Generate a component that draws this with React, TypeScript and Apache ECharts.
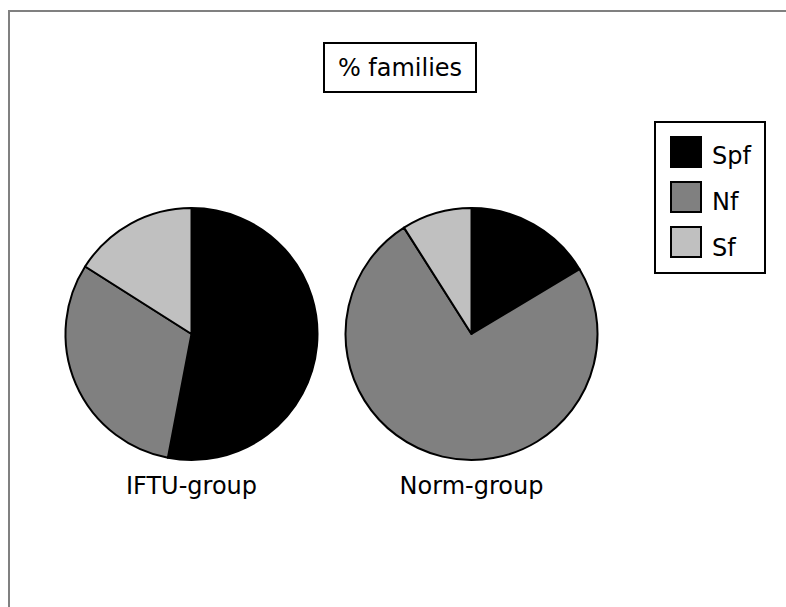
import React, { useEffect, useRef } from "react";
import * as echarts from "echarts";

const categories = ["Spf", "Nf", "Sf"];
const groups = ["IFTU-group", "Norm-group"];
const iftuValues = [53, 31, 16];
const normValues = [16.4, 74.6, 9];
const colors = ["#000000", "#808080", "#c0c0c0"];
const titleText = "% families";

const FONT = "DejaVu Sans, Verdana, sans-serif";

export default function App() {
  const ref = useRef<HTMLDivElement>(null);
  useEffect(() => {
    if (!ref.current) return;
    const chart = echarts.init(ref.current, undefined, { renderer: "svg" });
    const seriesData = [iftuValues, normValues];
    const centers = [[191.5, 334], [471.5, 334]];
    const legendY = [137, 182, 227];
    const legendTextY = [156, 202, 248];
    const option: any = {
      animation: false,
      backgroundColor: "#ffffff",
      series: seriesData.map((vals, i) => ({
        type: "pie",
        name: groups[i],
        center: centers[i],
        radius: 126,
        startAngle: 90,
        clockwise: true,
        label: { show: false },
        labelLine: { show: false },
        emphasis: { disabled: true },
        itemStyle: { borderColor: "#000000", borderWidth: 2 },
        data: vals.map((v, j) => ({
          name: categories[j],
          value: v,
          itemStyle: { color: colors[j] },
        })),
      })),
      graphic: [
        {
          type: "rect",
          shape: { x: 9, y: 11, width: 900, height: 800 },
          style: { fill: "none", stroke: "#808080", lineWidth: 2 },
          silent: true,
        },
        {
          type: "rect",
          shape: { x: 324, y: 43, width: 152, height: 49 },
          style: { fill: "#ffffff", stroke: "#000000", lineWidth: 2 },
        },
        {
          type: "text",
          x: 400,
          y: 68,
          style: {
            text: titleText,
            font: `24px ${FONT}`,
            fill: "#000000",
            align: "center",
            verticalAlign: "middle",
          },
        },
        {
          type: "rect",
          shape: { x: 655, y: 122, width: 110, height: 151 },
          style: { fill: "#ffffff", stroke: "#000000", lineWidth: 2 },
        },
        ...categories.map((c, j) => ({
          type: "rect",
          shape: { x: 671, y: legendY[j], width: 30, height: 30 },
          style: { fill: colors[j], stroke: "#000000", lineWidth: 2 },
        })),
        ...categories.map((c, j) => ({
          type: "text",
          x: 712,
          y: legendTextY[j],
          style: {
            text: c,
            font: `24px ${FONT}`,
            fill: "#000000",
            align: "left",
            verticalAlign: "middle",
          },
        })),
        ...groups.map((g, i) => ({
          type: "text",
          x: centers[i][0],
          y: 486,
          style: {
            text: g,
            font: `24px ${FONT}`,
            fill: "#000000",
            align: "center",
            verticalAlign: "middle",
          },
        })),
      ],
    };
    chart.setOption(option);
    return () => chart.dispose();
  }, []);
  return (
    <div
      ref={ref}
      style={{ position: "fixed", left: 0, top: 0, width: 786, height: 607 }}
    />
  );
}
